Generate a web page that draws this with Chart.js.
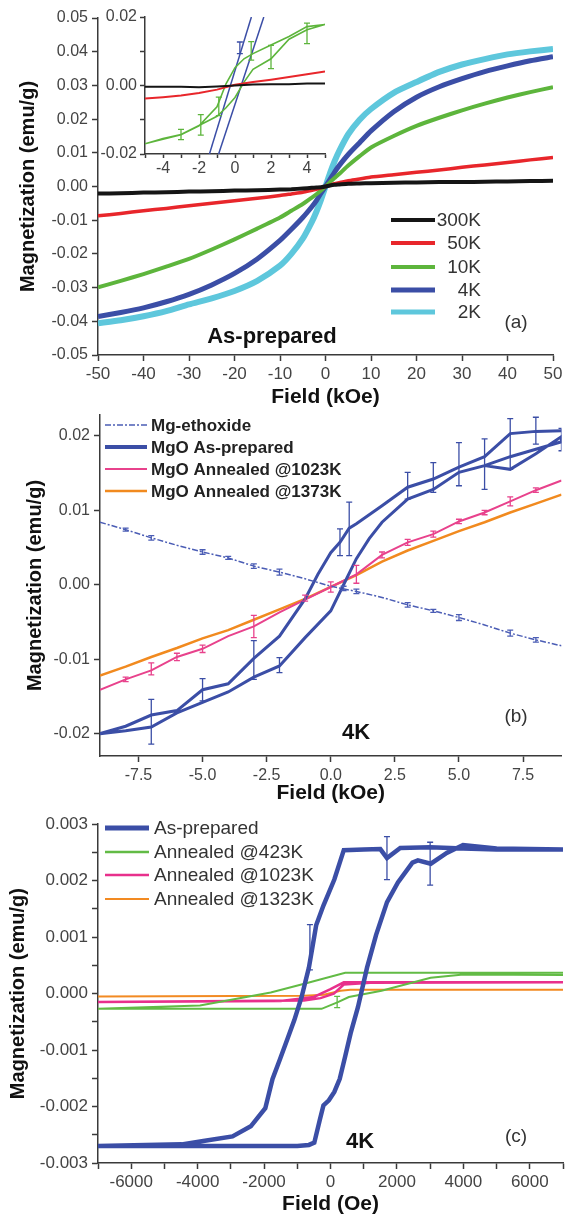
<!DOCTYPE html>
<html>
<head>
<meta charset="utf-8">
<script src="https://cdn.jsdelivr.net/npm/chart.js@4.4.0/dist/chart.umd.min.js"></script>
<style>
  html, body { margin: 0; padding: 0; background: #fff; }
  #wrap { position: relative; width: 570px; height: 1217px; overflow: hidden; }
  .box { position: absolute; }
</style>
</head>
<body>
<div id="wrap">
  <div class="box" style="left:0;top:0;width:570px;height:410px"><canvas id="chartA"></canvas></div>
  <div class="box" style="left:84px;top:0;width:250px;height:180px"><canvas id="chartInset"></canvas></div>
  <div class="box" style="left:0;top:400px;width:570px;height:410px"><canvas id="chartB"></canvas></div>
  <div class="box" style="left:0;top:810px;width:570px;height:407px"><canvas id="chartC"></canvas></div>
</div>
<script>
// ---- panel (a): as-prepared, M vs H at several temperatures (kOe, emu/g) ----
const fieldA = [-50,-45,-40,-35,-30,-25,-20,-15,-10,-7.5,-5,-3,-2,-1,0,1,2,3,5,7.5,10,15,20,25,30,35,40,45,50];
const m300K = [-0.0021,-0.0020,-0.0018,-0.0017,-0.0015,-0.0014,-0.0012,-0.0011,-0.0009,-0.0008,-0.0006,-0.0004,-0.0003,-0.0002,0,0.0003,0.0005,0.0006,0.0008,0.0009,0.0010,0.0011,0.0012,0.0013,0.0013,0.0014,0.0015,0.0016,0.0017];
const m50K = [-0.0087,-0.0080,-0.0072,-0.0065,-0.0057,-0.0050,-0.0042,-0.0035,-0.0027,-0.0022,-0.0017,-0.0011,-0.0008,-0.0004,0,0.0004,0.0008,0.0011,0.0017,0.0022,0.0028,0.0035,0.0042,0.0049,0.0057,0.0064,0.0071,0.0079,0.0086];
const m10K = [-0.0299,-0.0280,-0.0260,-0.0238,-0.0215,-0.0187,-0.0157,-0.0125,-0.0092,-0.0072,-0.0052,-0.0033,-0.0023,-0.0012,0,0.0013,0.0025,0.0037,0.0062,0.0090,0.0116,0.0150,0.0180,0.0204,0.0226,0.0246,0.0264,0.0280,0.0295];
const m4K = [-0.0386,-0.0374,-0.0360,-0.0342,-0.0320,-0.0292,-0.0258,-0.0215,-0.0160,-0.0127,-0.0092,-0.0060,-0.0042,-0.0020,0,0.0021,0.0043,0.0062,0.0095,0.0130,0.0165,0.0222,0.0265,0.0296,0.0320,0.0341,0.0358,0.0373,0.0385];
const m2K = [-0.0406,-0.0397,-0.0385,-0.0370,-0.0350,-0.0332,-0.0310,-0.0280,-0.0235,-0.0200,-0.0155,-0.0105,-0.0075,-0.0040,0,0.0040,0.0075,0.0105,0.0155,0.0198,0.0230,0.0278,0.0310,0.0340,0.0362,0.0378,0.0392,0.0401,0.0408];
const labelsA = ['300K', '50K', '10K', '4K', '2K'];

// inset of (a): low field zoom
const fieldIn = [-5,-4,-3,-2,-1,0,1,2,3,4,5];
const in300K = [-0.0004,-0.0004,-0.0004,-0.0005,-0.0003,0.0000,0.0003,0.0004,0.0004,0.0006,0.0006];
const in50K = [-0.0038,-0.0034,-0.0029,-0.0022,-0.0012,0.0002,0.0010,0.0017,0.0025,0.0033,0.0041];
const in10Kx = [-5,-4,-3,-2,-1,-0.5,0,0.5,1,2,3,4,5,4,3,2,1,0.5,0,-0.5,-1,-2,-3,-4,-5];
const in10Ky = [-0.0170,-0.0155,-0.0143,-0.0117,-0.0090,-0.0065,-0.0035,0.0010,0.0047,0.0078,0.0135,0.0163,0.0178,0.0172,0.0143,0.0118,0.0093,0.0078,0.0052,0.0005,-0.0062,-0.0118,-0.0144,-0.0157,-0.0170];
const in4KupX = [-1.42, 0.91];
const in4KupY = [-0.02, 0.02];
const in4KdnX = [-0.91, 1.6];
const in4KdnY = [-0.02, 0.02];
const errIn10K = [[-3,-0.0143,0.0015],[-1.9,-0.0115,0.003],[-0.9,-0.0061,0.0027],[0.9,0.0101,0.0027],[2,0.0083,0.0034],[4,0.0152,0.003]];
const errIn4K = [[0.27,0.011,0.0017]];

// ---- panel (b): 4K, different samples (kOe, emu/g) ----
const fieldB = [-9,-8,-7,-6,-5,-4,-3,-2,-1,0,1,2,3,4,5,6,7,8,9];
const ethoxideB = [0.0084,0.0074,0.0063,0.0053,0.0044,0.0036,0.0025,0.0017,0.0008,-0.0002,-0.0009,-0.0017,-0.0027,-0.0035,-0.0044,-0.0054,-0.0065,-0.0074,-0.0082];
const annealed1023B = [-0.0141,-0.0127,-0.0115,-0.0097,-0.0086,-0.0069,-0.0056,-0.0037,-0.0020,-0.0003,0.0014,0.0040,0.0057,0.0068,0.0085,0.0097,0.0112,0.0127,0.0140];
const annealed1373B = [-0.0122,-0.0110,-0.0097,-0.0085,-0.0072,-0.0061,-0.0047,-0.0033,-0.0019,-0.0003,0.0013,0.0031,0.0046,0.0059,0.0072,0.0084,0.0097,0.0109,0.0121];
const asPrepBx = [9,8,7,6,5,4,3,2,1,0.72,0.36,0,-0.5,-1,-2,-3,-4,-5,-6,-7,-8,-9,
                  -8,-7,-6,-5,-4,-3,-2,-1,0,0.5,1,1.5,2,3,4,5,6,7,8,9,
                  9,8,7,6];
const asPrepBy = [0.0207,0.0206,0.0203,0.0172,0.0158,0.0142,0.0131,0.0106,0.0082,0.0076,0.0057,0.0043,0.0014,-0.0019,-0.0069,-0.0099,-0.0133,-0.0141,-0.0169,-0.0175,-0.0190,-0.0200,
                  -0.0196,-0.0191,-0.0172,-0.0158,-0.0144,-0.0124,-0.0109,-0.0071,-0.0035,0.0000,0.0035,0.0062,0.0084,0.0115,0.0128,0.0151,0.0160,0.0172,0.0182,0.0192,
                  0.0199,0.0176,0.0155,0.0160];
const errAsPrepB = [[9,0.0195,0.0015],[8,0.0207,0.0018],[7,0.0189,0.0034],[6,0.0162,0.0034],[5,0.0162,0.0029],[4,0.0144,0.002],[3,0.0133,0.0018],[0.72,0.0075,0.0036],[0.36,0.0057,0.0018],[-2,-0.0108,0.001],[-3,-0.0101,0.0026],[-5,-0.0141,0.0015],[-7,-0.0184,0.003]];
const errEthoxideB = [[-8,0.0074,0.0002],[-7,0.0063,0.0003],[-5,0.0044,0.0003],[-4,0.0036,0.0002],[-3,0.0025,0.0003],[-2,0.0017,0.0004],[0.5,-0.0005,0.0003],[1,-0.0009,0.0003],[3,-0.0027,0.0003],[4,-0.0035,0.0002],[5,-0.0044,0.0004],[7,-0.0065,0.0004],[8,-0.0074,0.0003]];
const err1023B = [[-8,-0.0127,0.0003],[-7,-0.0113,0.0008],[-6,-0.0097,0.0005],[-5,-0.0086,0.0005],[-3,-0.0056,0.0015],[-1,-0.0018,0.0004],[0,-0.0003,0.0007],[1,0.0014,0.0012],[2,0.0040,0.0004],[3,0.0057,0.0004],[4,0.0068,0.0004],[5,0.0085,0.0003],[6,0.0097,0.0003],[7,0.0112,0.0006],[8,0.0127,0.0003]];
const labelsB = ['Mg-ethoxide', 'MgO As-prepared', 'MgO Annealed @1023K', 'MgO Annealed @1373K'];

// ---- panel (c): 4K, loops in Oe ----
const asPrepCx = [7000,5000,4000,3000,2100,1700,1500,1000,400,115,-213,-432,-541,-650,-870,-1089,-1308,-1527,-1745,-1963,-2400,-2950,-3830,-4480,-7000,
                  -3000,-1000,-650,-488,-323,-213,-49,115,279,443,607,826,1100,1373,1702,2030,2467,2630,3020,3500,3990,5000,7000];
const asPrepCy = [0.00255,0.00255,0.00257,0.00259,0.00258,0.00240,0.00256,0.00255,0.00254,0.00202,0.00156,0.00121,0.00083,0.00046,-0.00006,-0.00047,-0.00082,-0.00117,-0.00151,-0.00203,-0.00235,-0.00253,-0.00261,-0.00267,-0.00270,
                  -0.00270,-0.00270,-0.00268,-0.00264,-0.00224,-0.00198,-0.00189,-0.00174,-0.00151,-0.00111,-0.00070,-0.00024,0.00046,0.00104,0.00162,0.00197,0.00232,0.00236,0.00230,0.00249,0.00263,0.00257,0.00255];
const ann423Cx = [7000,443,-760,-1800,-3930,-7000,-268,224,552,1537,3014,4000,7000];
const ann423Cy = [0.00037,0.00037,0.00018,0.00002,-0.00021,-0.00027,-0.00027,-0.00015,-0.00006,0.00005,0.00028,0.00034,0.00033];
const ann1023Cx = [7000,400,0,-500,-1500,-7000,-800,-300,100,400,1200,7000];
const ann1023Cy = [0.00020,0.00020,0.00008,-0.00006,-0.00013,-0.00015,-0.00012,-0.00008,0.00000,0.00016,0.00019,0.00020];
const ann1323Cx = [-7000,-800,-200,300,600,7000];
const ann1323Cy = [-0.00005,-0.00004,-0.00002,0.00005,0.00007,0.00007];
const errAsPrepC = [[-620,0.00082,0.0004],[1700,0.00240,0.00038],[3000,0.00230,0.00038]];
const errAnn423C = [[200,-0.00015,0.0001]];
const labelsC = ['As-prepared', 'Annealed @423K', 'Annealed @1023K', 'Annealed @1323K'];

const FONT = "'Liberation Sans', Arial, sans-serif";
const AXIS = '#3a3a3a';
const BLUE = '#3b4ea6';

function pts(xs, ys) {
  return xs.map((x, i) => ({x: x, y: ys[i]}));
}

// error bars drawn through the chart scales
const errorBars = {
  id: 'errorBars',
  afterDatasetsDraw(chart) {
    const ctx = chart.ctx, area = chart.chartArea;
    const sx = chart.scales.x, sy = chart.scales.y;
    ctx.save();
    ctx.beginPath();
    ctx.rect(area.left, area.top - 2, area.width, area.height + 4);
    ctx.clip();
    chart.data.datasets.forEach(ds => {
      if (!ds.errors) return;
      ctx.strokeStyle = ds.borderColor;
      ctx.lineWidth = 1.3;
      ds.errors.forEach(e => {
        const px = sx.getPixelForValue(e[0]);
        const y1 = sy.getPixelForValue(e[1] - e[2]);
        const y2 = sy.getPixelForValue(e[1] + e[2]);
        ctx.beginPath();
        ctx.moveTo(px, y1); ctx.lineTo(px, y2);
        ctx.moveTo(px - 3, y1); ctx.lineTo(px + 3, y1);
        ctx.moveTo(px - 3, y2); ctx.lineTo(px + 3, y2);
        ctx.stroke();
      });
    });
    ctx.restore();
  }
};

// legend + free text labels
const decor = {
  id: 'decor',
  afterDraw(chart, args, opts) {
    const ctx = chart.ctx;
    ctx.save();
    if (opts.legend) {
      const L = opts.legend;
      chart.data.datasets.forEach((ds, i) => {
        if (!ds.label || L.ys[i] === undefined) return;
        const y = L.ys[i];
        ctx.strokeStyle = ds.borderColor;
        ctx.lineWidth = ds.legendWidth || ds.borderWidth;
        ctx.setLineDash(ds.borderDash || []);
        ctx.beginPath();
        ctx.moveTo(L.x0, y); ctx.lineTo(L.x1, y);
        ctx.stroke();
        ctx.setLineDash([]);
        ctx.fillStyle = L.color;
        ctx.font = L.font;
        ctx.textAlign = L.align;
        ctx.textBaseline = 'middle';
        ctx.fillText(ds.label, L.tx, y + 1);
      });
    }
    (opts.texts || []).forEach(t => {
      ctx.fillStyle = t.color || '#111';
      ctx.font = t.font;
      ctx.textAlign = 'center';
      ctx.textBaseline = 'middle';
      ctx.fillText(t.text, t.x, t.y);
    });
    ctx.restore();
  }
};

function scale(o) {
  const s = {
    type: 'linear',
    min: o.min, max: o.max,
    border: {display: true, color: AXIS, width: 1.5},
    grid: {display: true, drawOnChartArea: false, drawTicks: true, tickLength: o.tl || 6,
           color: AXIS, tickColor: AXIS, tickWidth: 1.5},
    ticks: {stepSize: o.step, autoSkip: false, maxRotation: 0, includeBounds: false,
            padding: o.pad === undefined ? 3 : o.pad, color: '#444',
            font: {family: FONT, size: o.fs}, callback: o.cb},
    title: {display: !!o.title, text: o.title || '', color: '#111',
            font: {family: FONT, size: o.tfs || 20, weight: 'bold'},
            padding: {top: o.tpad || 0, bottom: o.tpadB || 0}}
  };
  if (o.w !== undefined) s.afterFit = sc => { sc.width = o.w; };
  if (o.h !== undefined) s.afterFit = sc => { sc.height = o.h; };
  return s;
}

function baseOptions(pad, x, y, decorOpts) {
  return {
    responsive: true,
    maintainAspectRatio: false,
    animation: false,
    layout: {padding: pad},
    elements: {point: {radius: 0}},
    plugins: {legend: {display: false}, tooltip: {enabled: false}, decor: decorOpts},
    scales: {x: x, y: y}
  };
}

function line(label, data, color, width, extra) {
  return Object.assign({
    label: label, data: data, showLine: true, borderColor: color, backgroundColor: color,
    borderWidth: width, pointRadius: 0, tension: 0, fill: false
  }, extra || {});
}

// panel (a)
new Chart(document.getElementById('chartA'), {
  type: 'scatter',
  data: {
    datasets: [
      line(labelsA[0], pts(fieldA, m300K), '#151515', 4, {tension: 0.2}),
      line(labelsA[1], pts(fieldA, m50K), '#e8262b', 3.5, {tension: 0.2, legendWidth: 4}),
      line(labelsA[2], pts(fieldA, m10K), '#5db53c', 4, {tension: 0.2}),
      line(labelsA[3], pts(fieldA, m4K), BLUE, 5, {tension: 0.2}),
      line(labelsA[4], pts(fieldA, m2K), '#5ec7dc', 6, {tension: 0.2, legendWidth: 5})
    ]
  },
  options: baseOptions({left: 0, top: 18, right: 17, bottom: 0},
    scale({min: -50, max: 50, step: 10, fs: 17, h: 55, pad: 3, title: 'Field (kOe)', tfs: 21}),
    scale({min: -0.05, max: 0.05, step: 0.01, fs: 16, w: 98, pad: 4,
           title: 'Magnetization (emu/g)', tpad: 16,
           cb: v => (Math.abs(v) < 1e-9 ? 0 : v).toFixed(2)}),
    {legend: {x0: 391, x1: 435, tx: 481, align: 'right', ys: [220, 243, 267, 290, 312],
              font: '19px ' + FONT, color: '#333'},
     texts: [{text: 'As-prepared', x: 272, y: 337, font: 'bold 22px ' + FONT},
             {text: '(a)', x: 516, y: 323, font: '19px ' + FONT, color: '#333'}]}),
  plugins: [decor]
});

// inset of (a)
new Chart(document.getElementById('chartInset'), {
  type: 'scatter',
  data: {
    datasets: [
      line('300K', pts(fieldIn, in300K), '#151515', 2),
      line('50K', pts(fieldIn, in50K), '#e8262b', 2),
      line('10K', pts(in10Kx, in10Ky), '#5db53c', 1.6, {errors: errIn10K}),
      line('4K', pts(in4KupX, in4KupY), BLUE, 1.5, {errors: errIn4K}),
      line('4K', pts(in4KdnX, in4KdnY), BLUE, 1.5)
    ]
  },
  options: baseOptions({left: 0, top: 17, right: 9, bottom: 0},
    scale({min: -5, max: 5, step: 1, fs: 16, h: 26, tl: 4, pad: 1,
           cb: v => (v % 2 === 0 ? String(v) : '')}),
    scale({min: -0.02, max: 0.02, step: 0.01, fs: 16, w: 61, tl: 5, pad: 3,
           cb: v => (Math.round(v * 100) % 2 === 0 ? (Math.abs(v) < 1e-9 ? 0 : v).toFixed(2) : '')}),
    {}),
  plugins: [errorBars]
});

// panel (b)
new Chart(document.getElementById('chartB'), {
  type: 'scatter',
  data: {
    datasets: [
      line(labelsB[0], pts(fieldB, ethoxideB), '#4b5db5', 1.5, {borderDash: [6, 2, 2, 2], errors: errEthoxideB}),
      line(labelsB[1], pts(asPrepBx, asPrepBy), BLUE, 3, {errors: errAsPrepB, legendWidth: 4}),
      line(labelsB[2], pts(fieldB, annealed1023B), '#e8428c', 2, {errors: err1023B}),
      line(labelsB[3], pts(fieldB, annealed1373B), '#f18a1f', 2.5)
    ]
  },
  options: baseOptions({left: 0, top: 15, right: 8.5, bottom: 0},
    scale({min: -9, max: 9, step: 2.5, fs: 16, h: 54, pad: 4, title: 'Field (kOe)', tfs: 21, tpadB: 4,
           cb: v => (Math.abs(v) < 1e-9 ? 0 : v).toFixed(1)}),
    scale({min: -0.023, max: 0.0228, step: 0.01, fs: 16, w: 100, pad: 4,
           title: 'Magnetization (emu/g)', tpad: 23,
           cb: v => (Math.abs(v) < 1e-9 ? 0 : v).toFixed(2)}),
    {legend: {x0: 105, x1: 147, tx: 151, align: 'left', ys: [25, 47, 69, 91],
              font: 'bold 17px ' + FONT, color: '#222'},
     texts: [{text: '4K', x: 356, y: 333, font: 'bold 22px ' + FONT},
             {text: '(b)', x: 516, y: 317, font: '19px ' + FONT, color: '#333'}]}),
  plugins: [errorBars, decor]
});

// panel (c)
new Chart(document.getElementById('chartC'), {
  type: 'scatter',
  data: {
    datasets: [
      line(labelsC[0], pts(asPrepCx, asPrepCy), BLUE, 4.5, {errors: errAsPrepC, legendWidth: 5}),
      line(labelsC[1], pts(ann423Cx, ann423Cy), '#62bb45', 2, {errors: errAnn423C, legendWidth: 2.5}),
      line(labelsC[2], pts(ann1023Cx, ann1023Cy), '#e8308c', 2.5),
      line(labelsC[3], pts(ann1323Cx, ann1323Cy), '#f28a22', 2)
    ]
  },
  options: baseOptions({left: 0, top: 13, right: 7, bottom: 0},
    scale({min: -7000, max: 7000, step: 1000, fs: 17, h: 54, pad: 3, title: 'Field (Oe)', tfs: 21,
           cb: v => (v % 2000 === 0 ? String(v) : '')}),
    scale({min: -0.003, max: 0.003, step: 0.0005, fs: 17, w: 98, pad: 4,
           title: 'Magnetization (emu/g)', tpad: 6,
           cb: v => (Math.round(v * 10000) % 10 === 0 ? (Math.abs(v) < 1e-9 ? 0 : v).toFixed(3) : '')}),
    {legend: {x0: 105, x1: 149, tx: 154, align: 'left', ys: [18, 42, 65, 89],
              font: '19px ' + FONT, color: '#333'},
     texts: [{text: '4K', x: 360, y: 332, font: 'bold 22px ' + FONT},
             {text: '(c)', x: 516, y: 327, font: '19px ' + FONT, color: '#333'}]}),
  plugins: [errorBars, decor]
});
</script>
</body>
</html>
